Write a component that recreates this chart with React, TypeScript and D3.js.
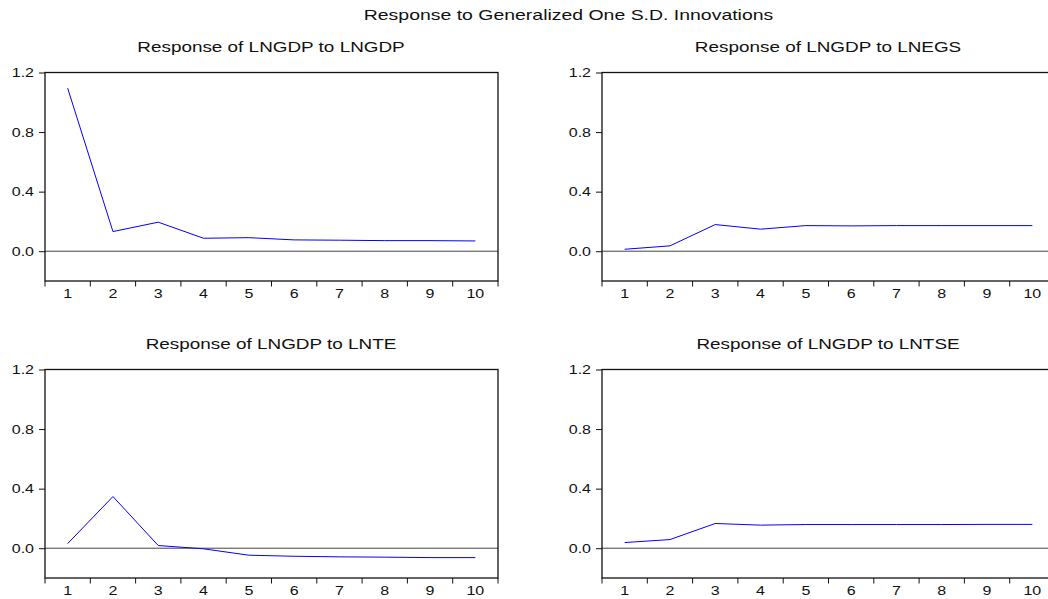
import React, { useEffect, useRef } from 'react';
import * as d3 from 'd3';

// periods 1..10
const periods = [1, 2, 3, 4, 5, 6, 7, 8, 9, 10];

const resToLNGDP = [1.095, 0.132, 0.195, 0.087, 0.091, 0.076, 0.074, 0.071, 0.071, 0.069];
const resToLNEGS = [0.013, 0.036, 0.179, 0.148, 0.172, 0.170, 0.172, 0.172, 0.172, 0.172];
const resToLNTE = [0.031, 0.347, 0.018, -0.004, -0.047, -0.054, -0.058, -0.060, -0.063, -0.063];
const resToLNTSE = [0.038, 0.058, 0.166, 0.155, 0.159, 0.159, 0.159, 0.159, 0.160, 0.160];

const yTicks = [0, 0.4, 0.8, 1.2];

const panels = [
  { title: 'Response of LNGDP to LNGDP', values: resToLNGDP },
  { title: 'Response of LNGDP to LNEGS', values: resToLNEGS },
  { title: 'Response of LNGDP to LNTE', values: resToLNTE },
  { title: 'Response of LNGDP to LNTSE', values: resToLNTSE },
];

const FONT = '"Liberation Sans", Arial, sans-serif';
// the original picture is stretched sideways, so glyphs get widened too
const STRETCH = 1.35;
const TICK_STRETCH = 1.28;

const addText = (sel, x, y, str, size, sx, anchor = 'middle') =>
  sel.append('text')
    .attr('transform', `translate(${x},${y}) scale(${sx},1)`)
    .attr('text-anchor', anchor)
    .attr('font-family', FONT)
    .attr('font-size', size)
    .attr('fill', '#111')
    .text(str);

const App = () => {
  const svgRef = useRef<SVGSVGElement>(null);

  useEffect(() => {
    const svg = d3.select(svgRef.current);
    svg.selectAll('*').remove();

    const width = 1048;
    const height = 599;
    const plotW = 453;
    const plotH = 208.5;
    const lefts = [45, 602];
    const tops = [72.5, 369.5];

    svg.attr('width', width).attr('height', height);
    svg.append('rect').attr('width', width).attr('height', height).attr('fill', '#fff');

    addText(svg, 568.5, 20, 'Response to Generalized One S.D. Innovations', 14.2, 1.37);

    const x = d3.scaleBand<number>().domain(periods).range([0, plotW]);
    const y = d3.scaleLinear().domain([-0.2, 1.2]).range([plotH, 0]);

    panels.forEach((p, i) => {
      const left = lefts[i % 2];
      const top = tops[Math.floor(i / 2)];
      const g = svg.append('g').attr('transform', `translate(${left},${top})`);

      addText(g, plotW / 2 - 0.5, -20.5, p.title, 14, STRETCH);

      // zero line
      g.append('line')
        .attr('x1', 0).attr('x2', plotW)
        .attr('y1', y(0)).attr('y2', y(0))
        .attr('stroke', '#444')
        .attr('stroke-width', 1);

      const line = d3.line<number>()
        .x((_, j) => (x(periods[j]) as number) + x.bandwidth() / 2)
        .y(d => y(d));

      g.append('path')
        .datum(p.values)
        .attr('d', line)
        .attr('fill', 'none')
        .attr('stroke', '#0000ff')
        .attr('stroke-width', 1);

      // frame
      g.append('rect')
        .attr('width', plotW).attr('height', plotH)
        .attr('fill', 'none')
        .attr('stroke', '#111')
        .attr('stroke-width', 1.3);

      // y axis ticks
      const ya = g.append('g').call(d3.axisLeft(y).tickValues(yTicks).tickSize(6).tickFormat(() => ''));
      ya.select('.domain').remove();
      ya.selectAll('line').attr('stroke', '#111');
      yTicks.forEach(t => {
        addText(g, -11, y(t) + 4.5, d3.format('.1f')(t), 12.5, TICK_STRETCH, 'end');
      });

      // x axis: ticks at band boundaries, labels in band centres
      const edges = periods.map(d => x(d) as number).concat([plotW]);
      const xa = g.append('g').attr('transform', `translate(0,${plotH})`);
      xa.selectAll('line')
        .data(edges)
        .enter()
        .append('line')
        .attr('x1', d => d).attr('x2', d => d)
        .attr('y1', 0).attr('y2', 5.5)
        .attr('stroke', '#111');
      periods.forEach(d => {
        addText(xa, (x(d) as number) + x.bandwidth() / 2, 17, String(d), 12.5, TICK_STRETCH);
      });
    });
  }, []);

  return (
    <div style={{ position: 'absolute', left: 0, top: 0 }}>
      <svg ref={svgRef} style={{ display: 'block' }}></svg>
    </div>
  );
};

export default App;
